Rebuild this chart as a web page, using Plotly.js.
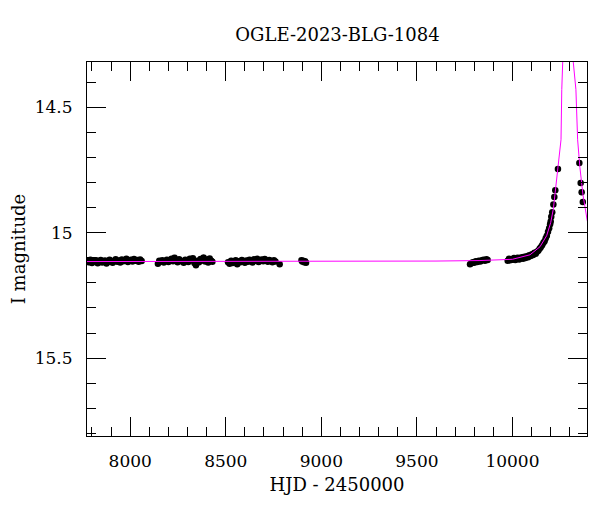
<!DOCTYPE html>
<html>
<head>
<meta charset="utf-8">
<script src="https://cdn.plot.ly/plotly-3.0.1.min.js"></script>
<style>html,body{margin:0;padding:0;background:#fff;}#chart{width:600px;height:512px;}</style>
</head>
<body>
<div id="chart"></div>
<script>
// Observed photometry (HJD - 2450000, I magnitude)
const hjdSeason1 = [7778, 7785, 7792, 7800, 7808, 7815, 7822, 7830, 7838, 7846, 7853, 7860, 7868, 7876, 7884, 7892, 7900, 7908, 7916, 7924, 7932, 7940, 7948, 7956, 7964, 7972, 7980, 7988, 7996, 8004, 8012, 8020, 8028, 8036, 8044, 8052, 8060];
const magSeason1 = [15.112, 15.118, 15.108, 15.121, 15.113, 15.116, 15.110, 15.122, 15.114, 15.109, 15.119, 15.115, 15.111, 15.123, 15.117, 15.108, 15.113, 15.120, 15.112, 15.106, 15.116, 15.111, 15.119, 15.107, 15.114, 15.110, 15.104, 15.117, 15.112, 15.108, 15.115, 15.105, 15.112, 15.109, 15.116, 15.107, 15.113];

const hjdSeason2 = [8145, 8152, 8160, 8168, 8176, 8184, 8192, 8200, 8208, 8216, 8224, 8232, 8240, 8248, 8256, 8264, 8272, 8280, 8288, 8296, 8304, 8312, 8320, 8328, 8336, 8344, 8352, 8360, 8368, 8376, 8384, 8392, 8400, 8408, 8416, 8424, 8430];
const magSeason2 = [15.124, 15.112, 15.116, 15.110, 15.119, 15.113, 15.108, 15.117, 15.111, 15.104, 15.114, 15.100, 15.109, 15.118, 15.106, 15.112, 15.115, 15.120, 15.108, 15.113, 15.117, 15.104, 15.110, 15.102, 15.121, 15.130, 15.112, 15.118, 15.105, 15.111, 15.099, 15.115, 15.107, 15.119, 15.103, 15.112, 15.116];

const hjdSeason3 = [8512, 8520, 8528, 8536, 8544, 8552, 8560, 8568, 8576, 8584, 8592, 8600, 8608, 8616, 8624, 8632, 8640, 8648, 8656, 8664, 8672, 8680, 8688, 8696, 8704, 8712, 8720, 8728, 8736, 8744, 8752, 8760, 8782];
const magSeason3 = [15.118, 15.124, 15.112, 15.121, 15.115, 15.110, 15.126, 15.114, 15.118, 15.109, 15.113, 15.120, 15.111, 15.116, 15.108, 15.114, 15.119, 15.106, 15.112, 15.104, 15.117, 15.110, 15.107, 15.114, 15.105, 15.111, 15.116, 15.109, 15.113, 15.118, 15.110, 15.115, 15.126];

const hjdSeason4 = [8896, 8900, 8905, 8910, 8915, 8920];
const magSeason4 = [15.110, 15.115, 15.112, 15.118, 15.114, 15.120];

const hjdSeason5 = [9778, 9785, 9792, 9800, 9808, 9816, 9824, 9832, 9840, 9848, 9856, 9864, 9870];
const magSeason5 = [15.126, 15.122, 15.118, 15.120, 15.114, 15.117, 15.112, 15.115, 15.110, 15.108, 15.112, 15.106, 15.109];

const hjdSeason6 = [9975, 9982, 9988, 9995, 10002, 10008, 10015, 10022, 10028, 10035, 10042, 10048, 10055, 10062, 10068, 10075, 10082, 10088, 10095, 10102, 10108, 10115, 10122, 10128, 10135, 10142, 10148, 10155, 10162, 10168, 10174, 10180, 10186, 10192, 10197, 10200, 10203, 10208, 10214, 10219, 10224, 10238, 10350, 10357, 10362, 10368];
const magSeason6 = [15.112, 15.104, 15.110, 15.106, 15.108, 15.101, 15.109, 15.104, 15.100, 15.107, 15.102, 15.098, 15.104, 15.096, 15.101, 15.094, 15.098, 15.090, 15.093, 15.086, 15.089, 15.080, 15.084, 15.076, 15.072, 15.064, 15.058, 15.050, 15.040, 15.034, 15.022, 15.012, 14.996, 14.982, 14.966, 14.955, 14.937, 14.919, 14.888, 14.858, 14.831, 14.746, 14.722, 14.802, 14.839, 14.878];

// Model light curve
const modelHjd = [7770, 8500, 9000, 9600, 9830, 10000, 10092, 10144, 10179, 10200, 10214, 10238, 10254, 10258, 10266, 10280, 10295, 10310, 10318, 10332, 10341, 10353, 10369, 10392];
const modelMag = [15.115, 15.115, 15.114, 15.113, 15.111, 15.106, 15.088, 15.056, 15.012, 14.960, 14.905, 14.745, 14.630, 14.430, 14.319, 14.05, 13.6, 14.05, 14.319, 14.430, 14.630, 14.741, 14.850, 14.955];

const xTitle = "HJD - 2450000";
const yTitle = "I magnitude";
const chartTitle = "OGLE-2023-BLG-1084";

const hjd = [].concat(hjdSeason1, hjdSeason2, hjdSeason3, hjdSeason4, hjdSeason5, hjdSeason6);
const mag = [].concat(magSeason1, magSeason2, magSeason3, magSeason4, magSeason5, magSeason6);

const FONT = "DejaVu Serif";

const traces = [
  {x: hjd, y: mag, type: 'scatter', mode: 'markers',
   marker: {color: '#000', size: 6.5, symbol: 'circle'}, hoverinfo: 'skip'},
  {x: modelHjd, y: modelMag, type: 'scatter', mode: 'lines',
   line: {color: '#ff00ff', width: 1}, hoverinfo: 'skip'}
];

const axisCommon = {
  showline: true, linecolor: '#000', linewidth: 1, mirror: 'ticks',
  ticks: 'inside', ticklen: 19, tickwidth: 1, tickcolor: '#000',
  showgrid: false, zeroline: false,
  tickfont: {family: FONT, size: 17, color: '#000'}
};

const layout = {
  width: 600, height: 512,
  margin: {l: 87, r: 13, t: 62, b: 76},
  paper_bgcolor: '#fff', plot_bgcolor: '#fff',
  showlegend: false,
  separators: '.',
  title: {text: chartTitle, font: {family: FONT, size: 18, color: '#000'},
          x: 0.5625, xanchor: 'center', y: 1 - 35/512, yanchor: 'middle', xref: 'container', yref: 'container'},
  xaxis: Object.assign({}, axisCommon, {
    range: [7774, 10390], tick0: 8000, dtick: 500, tickformat: 'd',
    minor: {dtick: 100, tick0: 8000, ticklen: 9, ticks: 'inside', tickcolor: '#000', tickwidth: 1},
    ticklabelstandoff: 10,
    title: {text: xTitle, font: {family: FONT, size: 18, color: '#000'}, standoff: 7}
  }),
  yaxis: Object.assign({}, axisCommon, {
    range: [15.81, 14.32], tick0: 14.5, dtick: 0.5,
    minor: {dtick: 0.1, tick0: 14.5, ticklen: 9, ticks: 'inside', tickcolor: '#000', tickwidth: 1},
    ticklabelstandoff: 10,
    title: {text: yTitle, font: {family: FONT, size: 18, color: '#000'}, standoff: 4}
  })
};

Plotly.newPlot('chart', traces, layout, {displayModeBar: false, staticPlot: true});
</script>
</body>
</html>
